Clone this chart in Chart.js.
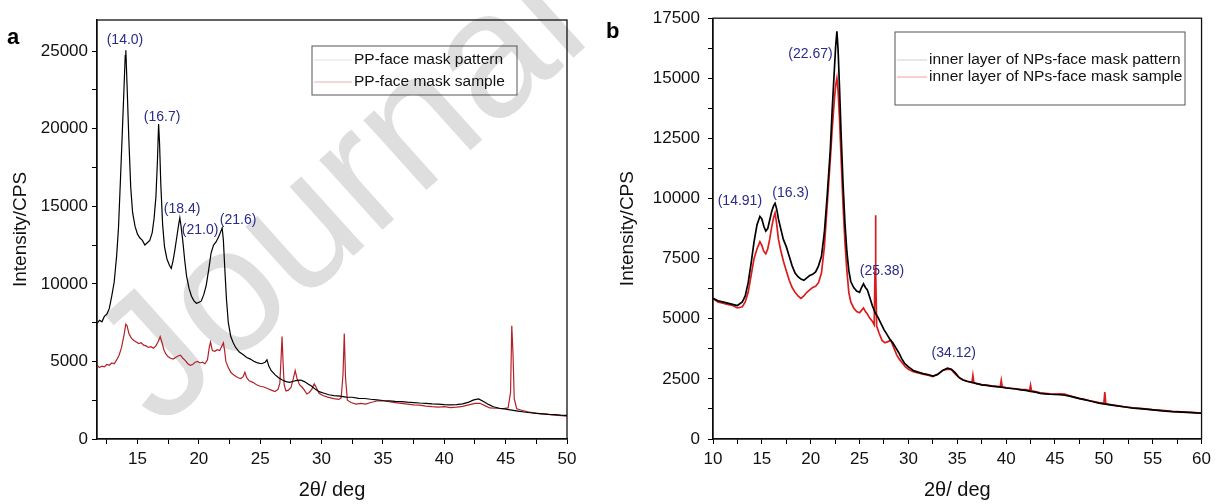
<!DOCTYPE html>
<html>
<head>
<meta charset="utf-8">
<script src="https://cdn.jsdelivr.net/npm/chart.js@4.4.0/dist/chart.umd.min.js"></script>
<style>
  body { margin: 0; background: #fff; }
  #wrap { position: relative; width: 1216px; height: 504px; }
  #chartA { position: absolute; left: 0; top: 0; }
  #chartB { position: absolute; left: 604px; top: 0; }
</style>
</head>
<body>
<div id="wrap">
  <canvas id="chartA" width="604" height="504"></canvas>
  <canvas id="chartB" width="612" height="504"></canvas>
</div>
<script>
// panel a : PP face mask
const aPatternX = [11.7, 11.9, 12.1, 12.3, 12.5, 12.7, 12.9, 13.1, 13.3, 13.45, 13.6, 13.75, 13.9, 14.0, 14.05, 14.15, 14.3, 14.45, 14.6, 14.8, 15.0, 15.2, 15.4, 15.6, 15.8, 16.0, 16.2, 16.35, 16.5, 16.62, 16.72, 16.8, 16.9, 17.05, 17.2, 17.4, 17.6, 17.75, 17.9, 18.05, 18.2, 18.35, 18.45, 18.55, 18.7, 18.85, 19.0, 19.2, 19.4, 19.6, 19.8, 20.0, 20.2, 20.4, 20.6, 20.8, 21.0, 21.2, 21.4, 21.6, 21.75, 21.9, 22.0, 22.1, 22.25, 22.4, 22.6, 22.8, 23.0, 23.3, 23.6, 23.9, 24.2, 24.5, 24.8, 25.1, 25.4, 25.55, 25.7, 25.9, 26.2, 26.5, 26.8, 27.1, 27.4, 27.7, 28.0, 28.3, 28.6, 28.9, 29.2, 29.5, 29.8, 30.2, 30.6, 31.0, 31.5, 32.0, 32.5, 33.0, 33.5, 34.0, 34.5, 35.0, 35.5, 36.0, 36.5, 37.0, 37.5, 38.0, 38.5, 39.0, 39.5, 40.0, 40.5, 41.0, 41.5, 42.0, 42.4, 42.8, 43.2, 43.6, 44.0, 44.5, 45.0, 45.5, 46.0, 46.5, 47.0, 47.5, 48.0, 48.5, 49.0, 49.5, 50.0];
const aPatternY = [7450, 7650, 7550, 7900, 8050, 8400, 9200, 10100, 11800, 13600, 16500, 19500, 22600, 24700, 25050, 22800, 19200, 16200, 14600, 13700, 13200, 12950, 12800, 12500, 12650, 12800, 13300, 14200, 15600, 17800, 20300, 19000, 16400, 13800, 12400, 11600, 11200, 11000, 11500, 12200, 13000, 13800, 14250, 13700, 12700, 11500, 10500, 9700, 9200, 8900, 8750, 8800, 8900, 9300, 9900, 10900, 12000, 12500, 12700, 13000, 13300, 13600, 12800, 11200, 9000, 7500, 6600, 6200, 5900, 5600, 5450, 5250, 5150, 5000, 4900, 4850, 4950, 5100, 4700, 4400, 4150, 3950, 3800, 3700, 3650, 3720, 3780, 3800, 3700, 3550, 3400, 3200, 3050, 2950, 2850, 2800, 2760, 2700, 2690, 2620, 2610, 2560, 2520, 2480, 2460, 2420, 2410, 2370, 2350, 2320, 2300, 2260, 2250, 2220, 2200, 2210, 2260, 2380, 2520, 2580, 2420, 2230, 2080, 1980, 1920, 1860, 1800, 1740, 1690, 1650, 1620, 1590, 1570, 1540, 1520];
const aSampleX = [11.7, 11.9, 12.1, 12.3, 12.5, 12.7, 12.9, 13.1, 13.3, 13.5, 13.7, 13.9, 14.05, 14.15, 14.3, 14.5, 14.7, 14.9, 15.1, 15.3, 15.5, 15.7, 15.9, 16.1, 16.3, 16.5, 16.7, 16.85, 17.0, 17.15, 17.3, 17.5, 17.7, 17.9, 18.1, 18.3, 18.5, 18.7, 18.9, 19.1, 19.3, 19.5, 19.7, 19.9, 20.1, 20.3, 20.5, 20.7, 20.85, 20.95, 21.1, 21.3, 21.5, 21.7, 21.85, 22.0, 22.1, 22.2, 22.4, 22.6, 22.8, 23.0, 23.2, 23.4, 23.6, 23.75, 23.9, 24.1, 24.4, 24.7, 25.0, 25.3, 25.6, 25.9, 26.2, 26.45, 26.6, 26.7, 26.78, 26.86, 26.95, 27.1, 27.3, 27.5, 27.7, 27.85, 28.0, 28.2, 28.4, 28.6, 28.8, 29.0, 29.2, 29.4, 29.55, 29.8, 30.1, 30.5, 31.0, 31.4, 31.6, 31.75, 31.85, 31.95, 32.1, 32.4, 32.8, 33.2, 33.6, 34.0, 34.5, 35.0, 35.5, 36.0, 36.5, 37.0, 37.5, 38.0, 38.5, 39.0, 39.5, 40.0, 40.5, 41.0, 41.5, 42.0, 42.5, 42.9, 43.3, 43.7, 44.2, 44.7, 45.2, 45.4, 45.5, 45.6, 45.7, 45.9, 46.3, 46.8, 47.3, 47.8, 48.3, 48.8, 49.3, 50.0];
const aSampleY = [4750, 4600, 4700, 4650, 4800, 4750, 4900, 4850, 5100, 5400, 5900, 6700, 7400, 7300, 6800, 6500, 6350, 6250, 6150, 6200, 6050, 6000, 5900, 5950, 5850, 6000, 6300, 6600, 6200, 5750, 5500, 5300, 5200, 5150, 5250, 5350, 5400, 5200, 5050, 4850, 4750, 4800, 4950, 5000, 4900, 4950, 4850, 5100, 5900, 6250, 5700, 5650, 5750, 5700, 5950, 6200, 5700, 5000, 4600, 4300, 4150, 4050, 3950, 3900, 4000, 4300, 3950, 3750, 3650, 3500, 3400, 3350, 3250, 3150, 3050, 3200, 3600, 5200, 6600, 5000, 3500, 3100, 3150, 3300, 3900, 4400, 3900, 3500, 3350, 3150, 2900, 3000, 3200, 3550, 3350, 2950, 2800, 2700, 2600, 2550, 2650, 4200, 6800, 4000, 2500, 2350, 2250, 2300, 2250, 2350, 2450, 2450, 2400, 2350, 2300, 2250, 2200, 2180, 2120, 2080, 2050, 2080, 2020, 2050, 2100, 2200, 2300, 2300, 2150, 2000, 1980, 1950, 2000, 3000, 7300, 5500, 2600, 1950, 1850, 1750, 1680, 1640, 1600, 1560, 1520, 1480];
const aXTicks = [12.5, 15, 17.5, 20, 22.5, 25, 27.5, 30, 32.5, 35, 37.5, 40, 42.5, 45, 47.5, 50];
const aYTicks = [0, 2500, 5000, 7500, 10000, 12500, 15000, 17500, 20000, 22500, 25000];
const aPeakText = ["(14.0)", "(16.7)", "(18.4)", "(21.0)", "(21.6)"];
const aPeakX = [13.98, 17.0, 18.63, 20.1, 23.2];
const aPeakY = [25700, 20740, 14810, 13460, 14100];
const aLegend = ["PP-face mask pattern", "PP-face mask sample"];

// panel b : inner layer of NPs face mask
const bPatternX = [10.0, 10.5, 11.0, 11.5, 12.0, 12.5, 13.0, 13.3, 13.6, 13.9, 14.2, 14.5, 14.8, 15.0, 15.2, 15.4, 15.6, 15.8, 16.0, 16.2, 16.35, 16.5, 16.7, 16.9, 17.2, 17.5, 17.8, 18.1, 18.4, 18.7, 19.0, 19.3, 19.6, 19.9, 20.2, 20.5, 20.8, 21.1, 21.4, 21.7, 22.0, 22.2, 22.4, 22.55, 22.68, 22.8, 22.95, 23.1, 23.3, 23.5, 23.7, 23.9, 24.1, 24.4, 24.7, 25.0, 25.2, 25.4, 25.6, 25.8, 26.0, 26.3, 26.6, 26.9, 27.2, 27.5, 27.8, 28.1, 28.4, 28.7, 29.0, 29.3, 29.6, 30.0, 30.5, 31.0, 31.5, 32.0, 32.5, 33.0, 33.5, 34.0, 34.4, 34.8, 35.2, 35.6, 36.0, 36.5, 37.0, 37.5, 38.0, 38.5, 39.0, 39.5, 40.0, 40.5, 41.0, 41.5, 42.0, 42.5, 43.0, 43.5, 44.0, 44.5, 45.0, 45.5, 46.0, 46.5, 47.0, 47.5, 48.0, 48.5, 49.0, 49.5, 50.0, 50.5, 51.0, 52.0, 53.0, 54.0, 55.0, 56.0, 57.0, 58.0, 59.0, 60.0];
const bPatternY = [5850, 5750, 5700, 5650, 5600, 5550, 5700, 5950, 6500, 7300, 8200, 8900, 9250, 9150, 8850, 8650, 8750, 9100, 9450, 9700, 9800, 9600, 9150, 8800, 8300, 8000, 7600, 7200, 6900, 6750, 6650, 6600, 6700, 6800, 6850, 6950, 7200, 7600, 8600, 10200, 12000, 13700, 15200, 16300, 16950, 16200, 14600, 12800, 10700, 9000, 7800, 7000, 6550, 6300, 6150, 6100, 6300, 6450, 6300, 6200, 5950, 5550, 5250, 5050, 4800, 4550, 4350, 4150, 4000, 3800, 3600, 3350, 3150, 3000, 2850, 2780, 2720, 2680, 2620, 2680, 2850, 2950, 2900, 2750, 2550, 2450, 2400, 2350, 2300, 2250, 2230, 2200, 2180, 2160, 2120, 2100, 2080, 2040, 2020, 1980, 1950, 1900, 1880, 1860, 1850, 1840, 1820, 1780, 1730, 1680, 1640, 1590, 1540, 1490, 1460, 1430, 1400, 1340, 1280, 1250, 1210, 1170, 1140, 1120, 1100, 1070];
const bSampleX = [10.0, 10.5, 11.0, 11.5, 12.0, 12.5, 13.0, 13.3, 13.6, 13.9, 14.2, 14.5, 14.8, 15.0, 15.2, 15.4, 15.6, 15.8, 16.0, 16.2, 16.35, 16.5, 16.7, 16.9, 17.2, 17.5, 17.8, 18.1, 18.4, 18.7, 19.0, 19.3, 19.6, 19.9, 20.2, 20.5, 20.8, 21.1, 21.4, 21.7, 22.0, 22.2, 22.4, 22.55, 22.68, 22.8, 22.95, 23.1, 23.3, 23.5, 23.7, 23.9, 24.1, 24.4, 24.7, 25.0, 25.2, 25.4, 25.6, 25.8, 26.0, 26.3, 26.5, 26.58, 26.62, 26.68, 26.75, 27.0, 27.3, 27.6, 27.9, 28.2, 28.5, 28.8, 29.1, 29.4, 29.7, 30.0, 30.5, 31.0, 31.5, 32.0, 32.5, 33.0, 33.5, 34.0, 34.4, 34.8, 35.2, 35.6, 36.0, 36.5, 36.6, 36.7, 37.0, 37.5, 38.0, 38.5, 39.0, 39.4, 39.5, 39.6, 40.0, 40.5, 41.0, 41.5, 42.0, 42.4, 42.5, 42.6, 43.0, 43.5, 44.0, 44.5, 45.0, 45.5, 46.0, 46.5, 47.0, 47.5, 48.0, 48.5, 49.0, 49.5, 50.0, 50.1, 50.2, 50.5, 51.0, 52.0, 53.0, 54.0, 55.0, 56.0, 57.0, 58.0, 59.0, 60.0];
const bSampleY = [5850, 5700, 5650, 5600, 5550, 5450, 5500, 5700, 6100, 6800, 7500, 7900, 8200, 8050, 7800, 7700, 7900, 8300, 8800, 9200, 9400, 9000, 8300, 7900, 7400, 7000, 6600, 6300, 6100, 5950, 5850, 5950, 6100, 6200, 6300, 6350, 6500, 6900, 8000, 9800, 11600, 12900, 14000, 14700, 15000, 14500, 13300, 11800, 9800, 8200, 7000, 6100, 5700, 5450, 5300, 5250, 5350, 5450, 5300, 5200, 5050, 4900, 4750, 7000, 9300, 7000, 4700, 4400, 4100, 4000, 4050, 4100, 3800, 3500, 3300, 3150, 3000, 2900, 2800, 2750, 2700, 2650, 2600, 2700, 2850, 2900, 2880, 2700, 2550, 2450, 2400, 2350, 2650, 2350, 2300, 2260, 2240, 2210, 2190, 2180, 2440, 2170, 2140, 2110, 2090, 2060, 2050, 2010, 2240, 2000, 1970, 1920, 1900, 1880, 1870, 1880, 1870, 1800, 1740, 1690, 1650, 1600, 1560, 1510, 1480, 1950, 1470, 1440, 1410, 1350, 1300, 1260, 1220, 1190, 1150, 1130, 1110, 1080];
const bXTicks = [10, 12.5, 15, 17.5, 20, 22.5, 25, 27.5, 30, 32.5, 35, 37.5, 40, 42.5, 45, 47.5, 50, 52.5, 55, 57.5, 60];
const bYTicks = [0, 1250, 2500, 3750, 5000, 6250, 7500, 8750, 10000, 11250, 12500, 13750, 15000, 16250, 17500];
const bPeakText = ["(22.67)", "(14.91)", "(16.3)", "(25.38)", "(34.12)"];
const bPeakX = [19.98, 12.75, 17.94, 27.3, 34.64];
const bPeakY = [16020, 9890, 10230, 7000, 3560];
const bLegend = ["inner layer of NPs-face mask pattern", "inner layer of NPs-face mask sample"];

const FONT = "'Liberation Sans', Arial, sans-serif";
const LABEL_BLUE = "#2b2b8c";

function toPoints(xs, ys) {
    return xs.map((x, i) => ({x: x, y: ys[i]}));
}

// frame round the plot area, peak labels, legend, panel letter
function decorPlugin(cfg) {
    return {
        id: "decor",
        beforeDatasetsDraw(chart) {
            if (!cfg.watermark) return;
            const ctx = chart.ctx;
            ctx.save();
            ctx.translate(cfg.watermark.x, cfg.watermark.y);
            ctx.rotate(-42 * Math.PI / 180);
            ctx.fillStyle = "#dedede";
            ctx.font = "178px " + FONT;
            ctx.textBaseline = "alphabetic";
            ctx.fillText("Journal Pre-proof", 0, 0);
            ctx.restore();
        },
        afterDraw(chart) {
            const ctx = chart.ctx;
            const a = chart.chartArea;
            const xs = chart.scales.x, ys = chart.scales.y;
            ctx.save();
            ctx.strokeStyle = "#111";
            ctx.lineWidth = 1.3;
            ctx.strokeRect(a.left, a.top, a.right - a.left, a.bottom - a.top);

            ctx.fillStyle = LABEL_BLUE;
            ctx.font = "14px " + FONT;
            ctx.textAlign = "center";
            ctx.textBaseline = "middle";
            cfg.peakText.forEach((t, i) => {
                ctx.fillText(t, xs.getPixelForValue(cfg.peakX[i]), ys.getPixelForValue(cfg.peakY[i]));
            });

            const L = cfg.legend;
            ctx.strokeStyle = "#555";
            ctx.lineWidth = 1;
            ctx.strokeRect(L.x, L.y, L.w, L.h);
            ctx.font = L.font + "px " + FONT;
            ctx.textAlign = "left";
            ctx.fillStyle = "#111";
            cfg.legendText.forEach((t, i) => {
                const yy = L.rows[i];
                ctx.strokeStyle = L.colors[i];
                ctx.beginPath();
                ctx.moveTo(L.x + 2, yy);
                ctx.lineTo(L.lineEnd, yy);
                ctx.stroke();
                ctx.fillText(t, L.lineEnd + 2, yy, L.maxW);
            });

            ctx.fillStyle = "#000";
            ctx.font = "bold 22px " + FONT;
            ctx.textBaseline = "alphabetic";
            ctx.fillText(cfg.letter.t, cfg.letter.x, cfg.letter.y);
            ctx.restore();
        }
    };
}

function makeChart(id, opt) {
    return new Chart(id, {
        type: "scatter",
        data: {
            datasets: [{
                label: opt.legendText[0],
                data: toPoints(opt.patternX, opt.patternY),
                showLine: true,
                borderColor: "#000",
                borderWidth: opt.lw,
                pointRadius: 0,
                tension: 0
            }, {
                label: opt.legendText[1],
                data: toPoints(opt.sampleX, opt.sampleY),
                showLine: true,
                borderColor: opt.red,
                borderWidth: opt.lw,
                pointRadius: 0,
                tension: 0
            }]
        },
        options: {
            responsive: false,
            animation: false,
            events: [],
            layout: {padding: opt.padding},
            plugins: {legend: {display: false}, tooltip: {enabled: false}},
            scales: {
                x: {
                    type: "linear",
                    min: opt.xMin, max: opt.xMax,
                    afterBuildTicks: s => { s.ticks = opt.xTicks.map(v => ({value: v})); },
                    afterFit: s => { s.height = 65; },
                    border: {color: "#000", width: 1.3},
                    grid: {drawOnChartArea: false, tickLength: 5, color: "#000"},
                    ticks: {
                        autoSkip: false, maxRotation: 0,
                        padding: 5, color: "#111", font: {family: FONT, size: 17},
                        callback: v => (v % 5 === 0 ? String(v) : "")
                    },
                    title: {display: true, text: "2θ/ deg", color: "#111",
                        font: {family: FONT, size: 20}, padding: {top: 0, bottom: 2}}
                },
                y: {
                    min: 0, max: opt.yMax,
                    afterBuildTicks: s => { s.ticks = opt.yTicks.map(v => ({value: v})); },
                    afterFit: s => { s.width = opt.yWidth; },
                    border: {color: "#000", width: 1.3},
                    grid: {drawOnChartArea: false, tickLength: 5, color: "#000"},
                    ticks: {
                        autoSkip: false,
                        padding: opt.yPad, color: "#111", font: {family: FONT, size: 17},
                        callback: v => (v % opt.yStep === 0 ? String(v) : "")
                    },
                    title: {display: true, text: "Intensity/CPS", color: "#111",
                        font: {family: FONT, size: 19}, padding: {top: opt.yTitlePad, bottom: 0}}
                }
            }
        },
        plugins: [decorPlugin(opt)]
    });
}

makeChart("chartA", {
    patternX: aPatternX, patternY: aPatternY, sampleX: aSampleX, sampleY: aSampleY,
    peakText: aPeakText, peakX: aPeakX, peakY: aPeakY, legendText: aLegend,
    xTicks: aXTicks, yTicks: aYTicks,
    red: "#b3202a", lw: 1.2,
    xMin: 11.7, xMax: 50, yMax: 27000, yStep: 5000,
    padding: {left: 0, right: 37, top: 20, bottom: 0}, yWidth: 97, yPad: 4, yTitlePad: 9,
    legend: {x: 312, y: 46, w: 205, h: 49, rows: [60, 82], lineEnd: 352, font: 15.5, maxW: 160,
        colors: ["#e2e2e2", "#e4b4b4"]},
    letter: {t: "a", x: 7, y: 44},
    watermark: {x: 160, y: 430}
});

makeChart("chartB", {
    patternX: bPatternX, patternY: bPatternY, sampleX: bSampleX, sampleY: bSampleY,
    peakText: bPeakText, peakX: bPeakX, peakY: bPeakY, legendText: bLegend,
    xTicks: bXTicks, yTicks: bYTicks,
    red: "#dc1c1c", lw: 1.7,
    xMin: 10, xMax: 60, yMax: 17500, yStep: 2500,
    padding: {left: 0, right: 12, top: 16, bottom: 0}, yWidth: 109, yPad: 8, yTitlePad: 12,
    legend: {x: 291, y: 32, w: 290, h: 73, rows: [60, 77], lineEnd: 323, font: 15.5, maxW: 256,
        colors: ["#cfcfcf", "#f0a0a0"]},
    letter: {t: "b", x: 2, y: 38},
    watermark: null
});
</script>
</body>
</html>
